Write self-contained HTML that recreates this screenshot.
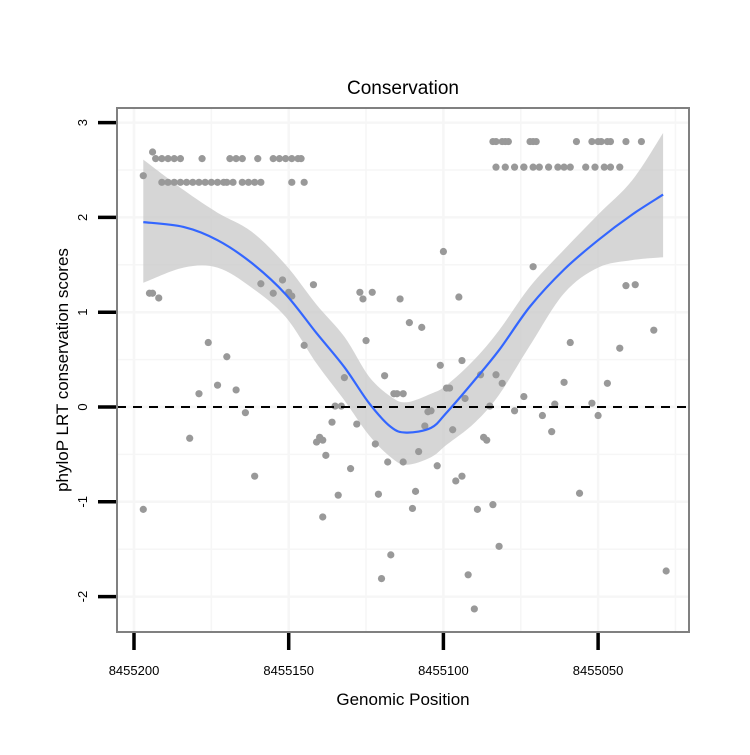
<!DOCTYPE html>
<html><head><meta charset="utf-8"><style>
body{margin:0;background:#fff;}
svg text{font-family:"Liberation Sans",sans-serif;}
</style></head><body>
<svg id="chart" width="750" height="750" viewBox="0 0 750 750" xmlns="http://www.w3.org/2000/svg">
<rect width="750" height="750" fill="#fff"/>
<text x="403" y="94" font-size="19" text-anchor="middle">Conservation</text>
<text x="403" y="705" font-size="17" text-anchor="middle">Genomic Position</text>
<text transform="translate(68,370) rotate(-90)" font-size="17" text-anchor="middle">phyloP LRT conservation scores</text>
<g id="grid"></g>
<g id="band"></g>
<g id="pts"></g>
<line x1="117" x2="689" y1="407" y2="407" stroke="#000" stroke-width="2" stroke-dasharray="9,7"/>
<g id="fit"></g>
<rect x="117" y="108" width="572" height="524" fill="none" stroke="#808080" stroke-width="2"/>
<g id="axes"></g>
</svg>
<script>
const xTicks=[8455200,8455150,8455100,8455050];
const xTickLabels=["8455200","8455150","8455100","8455050"];
const yTicks=[-2,-1,0,1,2,3];
const yTickLabels=["-2","-1","0","1","2","3"];
const curvePos=[8455197,8455184,8455173,8455162,8455151,8455141,8455132,8455124,8455117,8455112,8455104,8455099,8455090,8455082,8455072,8455061,8455050,8455039,8455029];
const fitVals=[1.95,1.90,1.76,1.52,1.19,0.78,0.42,0.04,-0.21,-0.27,-0.22,-0.06,0.28,0.60,1.06,1.45,1.76,2.03,2.24];
const upperVals=[2.61,2.29,2.05,1.85,1.50,1.08,0.74,0.32,0.11,0.05,0.14,0.23,0.50,0.81,1.27,1.66,2.03,2.39,2.89];
const lowerVals=[1.31,1.47,1.47,1.26,0.95,0.46,0.07,-0.30,-0.53,-0.61,-0.53,-0.40,-0.17,0.13,0.65,1.20,1.47,1.55,1.58];
const rowA=[8455193,8455191,8455189,8455187,8455185,8455178,8455169,8455167,8455165,8455160,8455155,8455153,8455151,8455149,8455147,8455146];
const rowB=[8455191,8455189,8455187,8455185,8455183,8455181,8455179,8455177,8455175,8455173,8455171,8455170,8455168,8455165,8455163,8455161,8455159,8455149,8455145];
const rowC=[8455084,8455083,8455081,8455080,8455079,8455072,8455071,8455070,8455057,8455052,8455050,8455049,8455047,8455046,8455041,8455036];
const rowD=[8455083,8455080,8455077,8455074,8455074,8455071,8455069,8455066,8455063,8455061,8455059,8455054,8455051,8455048,8455046,8455043];
const scatPos=[8455194,8455197,8455197,8455195,8455194,8455192,8455182,8455179,8455176,8455173,8455170,8455167,8455164,8455161,8455159,8455155,8455152,8455150,8455149,8455145,8455142,8455141,8455140,8455139,8455139,8455138,8455136,8455135,8455134,8455133,8455132,8455130,8455128,8455127,8455126,8455125,8455123,8455122,8455121,8455120,8455119,8455118,8455117,8455116,8455115,8455114,8455113,8455113,8455111,8455110,8455109,8455108,8455107,8455106,8455105,8455104,8455102,8455101,8455100,8455099,8455098,8455097,8455096,8455095,8455094,8455094,8455093,8455092,8455090,8455089,8455088,8455087,8455086,8455085,8455084,8455083,8455082,8455081,8455077,8455074,8455071,8455068,8455065,8455064,8455061,8455059,8455056,8455052,8455050,8455047,8455043,8455041,8455038,8455032,8455028];
const scatVals=[2.69,2.44,-1.08,1.20,1.20,1.15,-0.33,0.14,0.68,0.23,0.53,0.18,-0.06,-0.73,1.30,1.20,1.34,1.21,1.17,0.65,1.29,-0.37,-0.32,-1.16,-0.35,-0.51,-0.16,0.01,-0.93,0.01,0.31,-0.65,-0.18,1.21,1.14,0.70,1.21,-0.39,-0.92,-1.81,0.33,-0.58,-1.56,0.14,0.14,1.14,0.14,-0.58,0.89,-1.07,-0.89,-0.47,0.84,-0.20,-0.05,-0.04,-0.62,0.44,1.64,0.20,0.20,-0.24,-0.78,1.16,0.49,-0.73,0.09,-1.77,-2.13,-1.08,0.34,-0.32,-0.35,0.01,-1.03,0.34,-1.47,0.25,-0.04,0.11,1.48,-0.09,-0.26,0.03,0.26,0.68,-0.91,0.04,-0.09,0.25,0.62,1.28,1.29,0.81,-1.73];
const rowVals=[2.62,2.37,2.80,2.53];

const X=p=>134+(8455200-p)*3.094;
const Y=v=>407-v*94.8;
const NS="http://www.w3.org/2000/svg";
function mk(tag,attrs,parent){const e=document.createElementNS(NS,tag);for(const k in attrs)e.setAttribute(k,attrs[k]);parent.appendChild(e);return e;}
function spline(P,start){
 let s=(start?'M':'L')+P[0][0].toFixed(1)+','+P[0][1].toFixed(1);
 for(let i=0;i<P.length-1;i++){
  const p0=P[i-1]||P[i],p1=P[i],p2=P[i+1],p3=P[i+2]||P[i+1];
  const c1=[p1[0]+(p2[0]-p0[0])/6,p1[1]+(p2[1]-p0[1])/6];
  const c2=[p2[0]-(p3[0]-p1[0])/6,p2[1]-(p3[1]-p1[1])/6];
  s+='C'+c1[0].toFixed(1)+','+c1[1].toFixed(1)+' '+c2[0].toFixed(1)+','+c2[1].toFixed(1)+' '+p2[0].toFixed(1)+','+p2[1].toFixed(1);
 }
 return s;
}
const grid=document.getElementById('grid');
[8455200,8455175,8455150,8455125,8455100,8455075,8455050,8455025].forEach(p=>{
 const l=mk('line',{x1:X(p),x2:X(p),y1:109,y2:631,stroke:'#f6f6f6','stroke-width':p%50===0?2.5:1.5},grid);
 
 
});
[-2,-1.5,-1,-0.5,0,0.5,1,1.5,2,2.5,3].forEach(v=>{
 const l=mk('line',{x1:118,x2:688,y1:Y(v),y2:Y(v),stroke:'#f6f6f6','stroke-width':Number.isInteger(v)?2.5:1.5},grid);
 
 
});
const up=curvePos.map((p,i)=>[X(p),Y(upperVals[i])]);
const lo=curvePos.map((p,i)=>[X(p),Y(lowerVals[i])]).reverse();
const band=mk('path',{d:spline(up,true)+spline(lo,false)+'Z',fill:'#c8c8c8','fill-opacity':0.75},document.getElementById('band'));


const pts=document.getElementById('pts');
function dot(p,v){const c=mk('circle',{cx:X(p),cy:Y(v),r:3.6,fill:'#999'},pts);
 
 }
rowA.forEach(p=>dot(p,rowVals[0]));
rowB.forEach(p=>dot(p,rowVals[1]));
rowC.forEach(p=>dot(p,rowVals[2]));
rowD.forEach(p=>dot(p,rowVals[3]));
scatPos.forEach((p,i)=>dot(p,scatVals[i]));
const fp=curvePos.map((p,i)=>[X(p),Y(fitVals[i])]);
const fl=mk('path',{d:spline(fp,true),fill:'none',stroke:'#3366ff','stroke-width':2.2,'stroke-linejoin':'round'},document.getElementById('fit'));


const axes=document.getElementById('axes');
xTicks.forEach((p,i)=>{
 const t=mk('line',{x1:X(p),x2:X(p),y1:633,y2:650,stroke:'#000','stroke-width':3.5},axes);
 
 
 const tx=mk('text',{x:X(p),y:675,'font-size':13,'text-anchor':'middle'},axes);
 tx.textContent=xTickLabels[i];
 
 
});
yTicks.forEach((v,i)=>{
 const t=mk('line',{x1:98,x2:116,y1:Y(v),y2:Y(v),stroke:'#000','stroke-width':3.5},axes);
 
 
 const tx=mk('text',{transform:`translate(87,${Y(v)}) rotate(-90)`,'font-size':13,'text-anchor':'middle'},axes);
 tx.textContent=yTickLabels[i];
 
 
});
</script>
</body></html>
